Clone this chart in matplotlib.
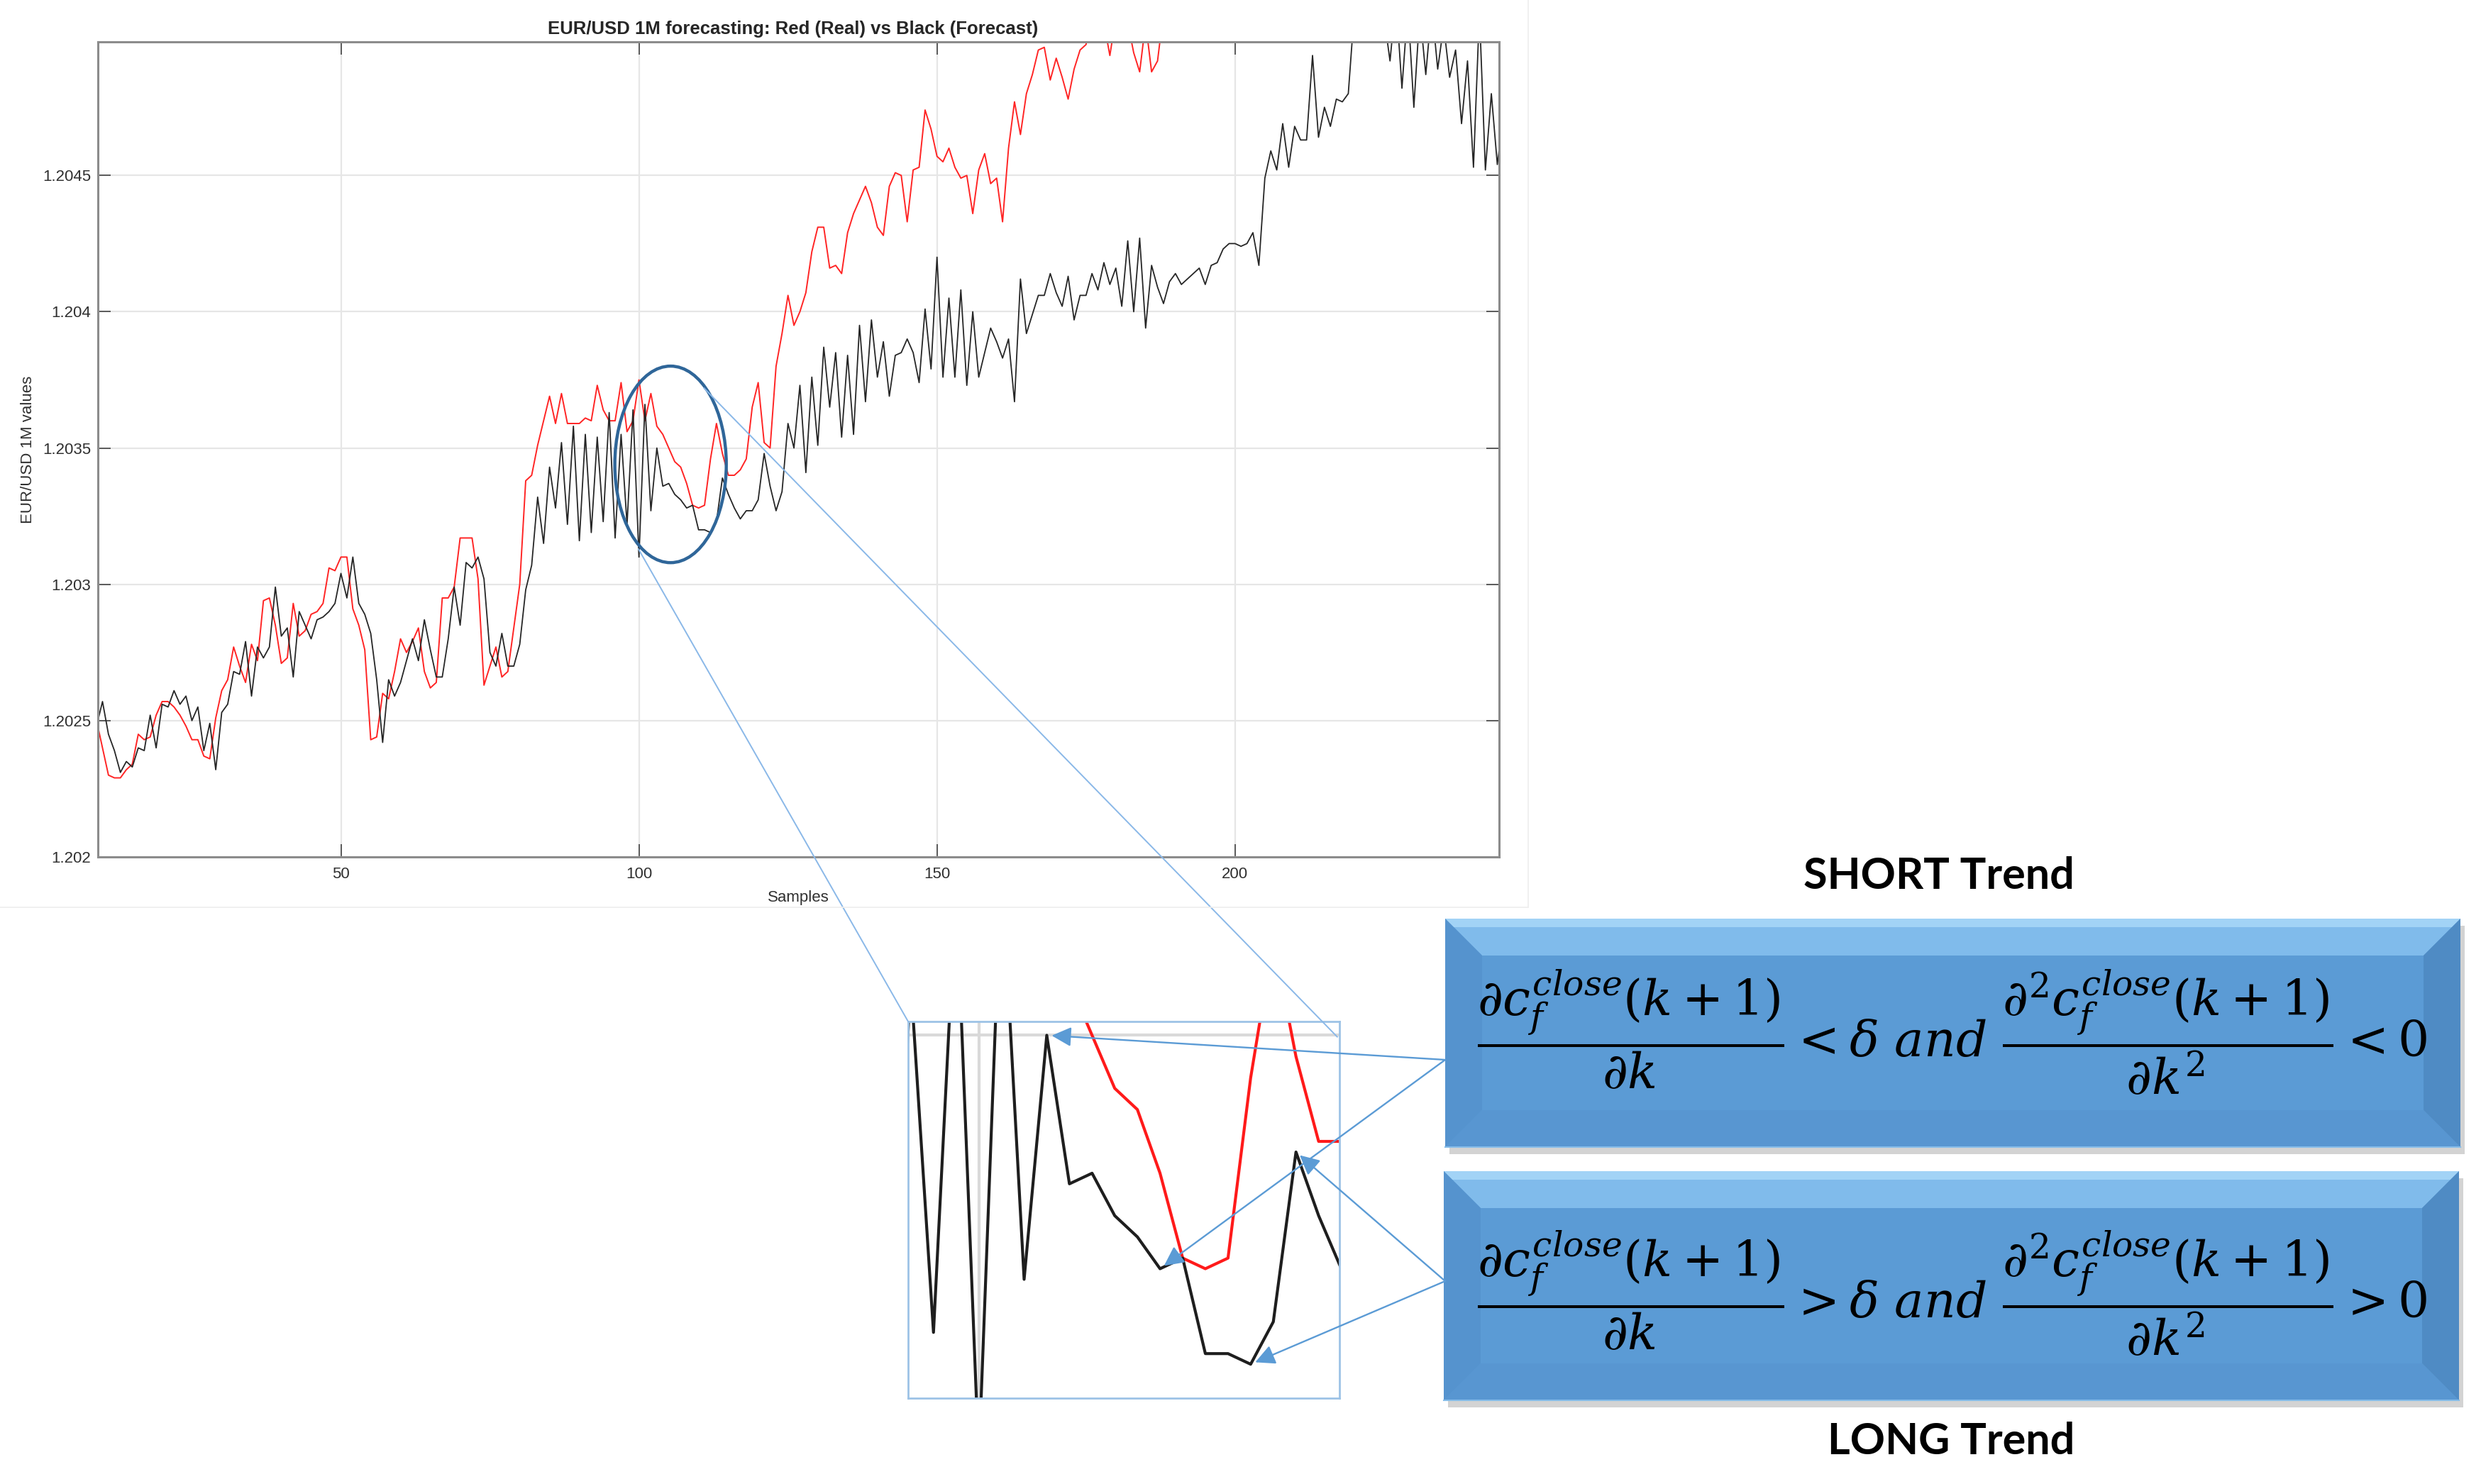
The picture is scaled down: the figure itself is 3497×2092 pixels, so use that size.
import numpy as np
import matplotlib
matplotlib.use('Agg')
import matplotlib.pyplot as plt
from matplotlib.patches import Ellipse, Polygon, ConnectionPatch

plt.rcParams['font.family'] = ['Liberation Sans', 'DejaVu Sans']
plt.rcParams['mathtext.fontset'] = 'dejavuserif'

# samples 9..189 (red leaves the plot above 1.205 after that)
real_start = 9
real = [1.20250, 1.20240, 1.20230, 1.20229, 1.20229, 1.20232, 1.20234, 1.20245, 1.20243, 1.20244,
        1.20252, 1.20257, 1.20257, 1.20255, 1.20252, 1.20248, 1.20243, 1.20243, 1.20237, 1.20236,
        1.20251, 1.20261, 1.20265, 1.20277, 1.20270, 1.20264, 1.20278, 1.20272, 1.20294, 1.20295,
        1.20285, 1.20271, 1.20273, 1.20293, 1.20281, 1.20283, 1.20289, 1.20290, 1.20293, 1.20306,
        1.20305, 1.20310, 1.20310, 1.20291, 1.20285, 1.20276, 1.20243, 1.20244, 1.20260, 1.20258,
        1.20268, 1.20280, 1.20275, 1.20279, 1.20284, 1.20268, 1.20262, 1.20264, 1.20295, 1.20295,
        1.20299, 1.20317, 1.20317, 1.20317, 1.20302, 1.20263, 1.20270, 1.20277, 1.20266, 1.20268,
        1.20284, 1.20300, 1.20338, 1.20340, 1.20351, 1.20360, 1.20369, 1.20359, 1.20370, 1.20359,
        1.20359, 1.20359, 1.20361, 1.20360, 1.20373, 1.20364, 1.20360, 1.20360, 1.20374, 1.20356,
        1.20360, 1.20375, 1.20360, 1.20370, 1.20358, 1.20355, 1.20350, 1.20345, 1.20343, 1.20337,
        1.20329, 1.20328, 1.20329, 1.20346, 1.20359, 1.20348, 1.20340, 1.20340, 1.20342, 1.20346,
        1.20365, 1.20374, 1.20352, 1.20350, 1.20380, 1.20392, 1.20406, 1.20395, 1.20400, 1.20407,
        1.20422, 1.20431, 1.20431, 1.20416, 1.20417, 1.20414, 1.20429, 1.20436, 1.20441, 1.20446,
        1.20440, 1.20431, 1.20428, 1.20446, 1.20451, 1.20450, 1.20433, 1.20452, 1.20453, 1.20474,
        1.20467, 1.20457, 1.20455, 1.20460, 1.20453, 1.20449, 1.20450, 1.20436, 1.20452, 1.20458,
        1.20447, 1.20449, 1.20433, 1.20460, 1.20477, 1.20465, 1.20480, 1.20487, 1.20496, 1.20497,
        1.20485, 1.20493, 1.20486, 1.20478, 1.20489, 1.20496, 1.20498, 1.20510, 1.20514, 1.20506,
        1.20494, 1.20508, 1.20514, 1.20506, 1.20495, 1.20488, 1.20506, 1.20488, 1.20492, 1.20510,
        1.20520]

# samples 9..245
forecast_start = 9
forecast = [1.20248, 1.20257, 1.20245, 1.20239, 1.20231, 1.20235, 1.20233, 1.20240, 1.20239, 1.20252,
            1.20240, 1.20256, 1.20255, 1.20261, 1.20256, 1.20259, 1.20250, 1.20255, 1.20239, 1.20249,
            1.20232, 1.20253, 1.20256, 1.20268, 1.20267, 1.20279, 1.20259, 1.20277, 1.20273, 1.20277,
            1.20299, 1.20281, 1.20284, 1.20266, 1.20290, 1.20285, 1.20280, 1.20287, 1.20288, 1.20290,
            1.20293, 1.20304, 1.20295, 1.20310, 1.20293, 1.20289, 1.20282, 1.20265, 1.20242, 1.20265,
            1.20259, 1.20264, 1.20272, 1.20280, 1.20272, 1.20287, 1.20276, 1.20266, 1.20266, 1.20280,
            1.20299, 1.20285, 1.20308, 1.20306, 1.20310, 1.20302, 1.20275, 1.20270, 1.20282, 1.20270,
            1.20270, 1.20278, 1.20298, 1.20307, 1.20332, 1.20315, 1.20343, 1.20328, 1.20352, 1.20322,
            1.20358, 1.20316, 1.20355, 1.20319, 1.20354, 1.20323, 1.20363, 1.20317, 1.20355, 1.20322,
            1.20364, 1.20310, 1.20366, 1.20327, 1.20350, 1.20336, 1.20337, 1.20333, 1.20331, 1.20328,
            1.20329, 1.20320, 1.20320, 1.20319, 1.20323, 1.20339, 1.20333, 1.20328, 1.20324, 1.20327,
            1.20327, 1.20331, 1.20348, 1.20336, 1.20327, 1.20334, 1.20359, 1.20350, 1.20373, 1.20341,
            1.20376, 1.20351, 1.20387, 1.20365, 1.20385, 1.20354, 1.20384, 1.20355, 1.20395, 1.20367,
            1.20397, 1.20376, 1.20389, 1.20369, 1.20384, 1.20385, 1.20390, 1.20385, 1.20374, 1.20401,
            1.20379, 1.20420, 1.20376, 1.20405, 1.20376, 1.20408, 1.20373, 1.20400, 1.20376, 1.20385,
            1.20394, 1.20389, 1.20383, 1.20390, 1.20367, 1.20412, 1.20392, 1.20399, 1.20406, 1.20406,
            1.20414, 1.20407, 1.20402, 1.20413, 1.20397, 1.20406, 1.20406, 1.20414, 1.20408, 1.20418,
            1.20410, 1.20416, 1.20402, 1.20426, 1.20400, 1.20427, 1.20394, 1.20417, 1.20409, 1.20403,
            1.20411, 1.20414, 1.20410, 1.20412, 1.20414, 1.20416, 1.20410, 1.20417, 1.20418, 1.20423,
            1.20425, 1.20425, 1.20424, 1.20425, 1.20429, 1.20417, 1.20449, 1.20459, 1.20452, 1.20469,
            1.20453, 1.20468, 1.20463, 1.20463, 1.20494, 1.20464, 1.20475, 1.20468, 1.20478, 1.20477,
            1.20480, 1.20510, 1.20515, 1.20512, 1.20518, 1.20514, 1.20508, 1.20492, 1.20515, 1.20482,
            1.20512, 1.20475, 1.20510, 1.20487, 1.20512, 1.20489, 1.20505, 1.20486, 1.20496, 1.20469,
            1.20492, 1.20453, 1.20510, 1.20452, 1.20480, 1.20454, 1.20472]

x_real = np.arange(real_start, real_start + len(real))
x_fc = np.arange(forecast_start, forecast_start + len(forecast))

xticks = [50, 100, 150, 200]
yticks = [1.202, 1.2025, 1.203, 1.2035, 1.204, 1.2045]
ytick_labels = ['1.202', '1.2025', '1.203', '1.2035', '1.204', '1.2045']

title = 'EUR/USD 1M forecasting: Red (Real) vs Black (Forecast)'
eq_short = r'$\dfrac{\partial c_f^{close}(k+1)}{\partial k} < \delta\ and\ \dfrac{\partial^2 c_f^{close}(k+1)}{\partial k^2} < 0$'
eq_long = r'$\dfrac{\partial c_f^{close}(k+1)}{\partial k} > \delta\ and\ \dfrac{\partial^2 c_f^{close}(k+1)}{\partial k^2} > 0$'

# points of the forecast that the arrows point at (inset)
short_points = [103, 108]
long_points = [114, 112]

W, H = 3497, 2092
fig = plt.figure(figsize=(W / 100, H / 100), dpi=100)

# ---- main chart
ax = fig.add_axes([138 / W, 1 - 1208 / H, 1975 / W, 1149 / H], zorder=1)
ax.plot(x_real, real, color='#ff2424', lw=1.4)
ax.plot(x_fc, forecast, color='#262626', lw=1.3)
ax.set_xlim(9.23, 244.3)
ax.set_ylim(1.202, 1.20499)
ax.set_xticks(xticks)
ax.set_yticks(yticks)
ax.set_yticklabels(ytick_labels)
ax.set_axisbelow(True)
ax.grid(color='#e6e6e6', lw=1.6)
ax.tick_params(direction='in', length=13, width=1.4, color='#5a5a5a', top=True, right=True,
               labelsize=16, labelcolor='#303030')
ax.tick_params(axis='x', pad=10)
ax.tick_params(axis='y', pad=7)
for s in ax.spines.values():
    s.set_color('#8c8c8c')
    s.set_linewidth(2.2)
ax.set_xlabel('Samples', fontsize=16, color='#303030', va='center')
ax.xaxis.set_label_coords(0.5, -(1265 - 1208) / 1149)
ax.set_ylabel('EUR/USD 1M values', fontsize=16, color='#303030', va='center')
ax.yaxis.set_label_coords(-(138 - 40) / 1975, 0.5)
fig.text(1118 / W, 1 - 41 / H, title, ha='center', va='center', fontsize=18.5, fontweight='bold',
         color='#262626')

ax.add_patch(Ellipse((105.3, 1.20344), 18.7, 0.000721, fill=False, ec='#2f6699', lw=3.2, zorder=5))

# ---- zoomed inset
axins = fig.add_axes([1280 / W, 1 - 1971 / H, 608 / W, 531 / H], zorder=2)
axins.plot(x_real, real, color='#ff1a1a', lw=3.0)
axins.plot(x_fc, forecast, color='#1e1e1e', lw=3.0)
axins.set_xlim(96.88, 115.92)
axins.set_ylim(1.203158, 1.203513)
axins.set_xticks([100])
axins.set_yticks([1.2035])
axins.grid(color='#d9d9d9', lw=3)
axins.set_axisbelow(True)
axins.tick_params(length=0, labelbottom=False, labelleft=False)
for s in axins.spines.values():
    s.set_color('#9dc3e6')
    s.set_linewidth(2)

con1 = ConnectionPatch(xyA=(99.9, 1.20313), coordsA=ax.transData, xyB=(0, 1), coordsB=axins.transAxes,
                       color='#8ab8e8', lw=1.4, zorder=3)
con2 = ConnectionPatch(xyA=(110.9, 1.20372), coordsA=ax.transData, xyB=(0.995, 0.959),
                       coordsB=axins.transAxes, color='#8ab8e8', lw=1.4, zorder=3)
fig.add_artist(con1)
fig.add_artist(con2)

# ---- overlay in pixel units for the boxes, labels and arrows
ov = fig.add_axes([0, 0, 1, 1], zorder=5)
ov.set_xlim(0, W)
ov.set_ylim(H, 0)
ov.axis('off')
ov.patch.set_alpha(0)

# faint frame of the pasted figure
ov.plot([2154, 2154], [0, 1279], color='#eeeeee', lw=1.2)
ov.plot([0, 2154], [1279, 1279], color='#eeeeee', lw=1.2)


def bevel_box(x0, y0, x1, y1, b=52):
    ov.add_patch(Polygon([(x0 + 6, y0 + 10), (x1 + 6, y0 + 10), (x1 + 6, y1 + 10), (x0 + 6, y1 + 10)],
                         closed=True, fc='#b0b0b0', ec='none', alpha=0.55))
    ov.add_patch(Polygon([(x0, y0), (x1, y0), (x1, y1), (x0, y1)], closed=True, fc='#5b9bd5', ec='none'))
    ov.add_patch(Polygon([(x0, y0), (x1, y0), (x1 - b, y0 + b), (x0 + b, y0 + b)], closed=True,
                         fc='#80bbeb', ec='none'))
    ov.add_patch(Polygon([(x0, y0), (x1, y0), (x1 - 12, y0 + 12), (x0 + 12, y0 + 12)], closed=True,
                         fc='#a2d3f6', ec='none'))
    ov.add_patch(Polygon([(x0, y0), (x0 + b, y0 + b), (x0 + b, y1 - b), (x0, y1)], closed=True,
                         fc='#5593ce', ec='none'))
    ov.add_patch(Polygon([(x1, y0), (x1 - b, y0 + b), (x1 - b, y1 - b), (x1, y1)], closed=True,
                         fc='#4f8bc4', ec='none'))
    ov.add_patch(Polygon([(x0, y1), (x1, y1), (x1 - b, y1 - b), (x0 + b, y1 - b)], closed=True,
                         fc='#5896d1', ec='none'))
    ov.plot([x0, x1], [y1, y1], color='#86bde9', lw=1.5)


bevel_box(2037, 1295, 3468, 1617)
bevel_box(2035, 1651, 3466, 1974)

ov.text(2733, 1235, 'SHORT Trend', ha='center', va='center', fontsize=44, fontweight='bold',
        family=['Lato', 'DejaVu Sans'], color='black')
ov.text(2750, 2032, 'LONG Trend', ha='center', va='center', fontsize=44, fontweight='bold',
        family=['Lato', 'DejaVu Sans'], color='black')
ov.text(2752, 1455, eq_short, ha='center', va='center', fontsize=50, color='black')
ov.text(2752, 1823, eq_long, ha='center', va='center', fontsize=50, color='black')

arrow_style = dict(arrowstyle='-|>', color='#5b9bd5', lw=1.7, mutation_scale=42, shrinkA=0, shrinkB=5)
fc_lookup = dict(zip(x_fc, forecast))
for p in short_points:
    ov.annotate('', xy=(p, fc_lookup[p]), xycoords=axins.transData, xytext=(2037, 1494),
                textcoords='data', arrowprops=arrow_style)
for p in long_points:
    ov.annotate('', xy=(p, fc_lookup[p]), xycoords=axins.transData, xytext=(2037, 1806),
                textcoords='data', arrowprops=arrow_style)

fig.savefig('out.png', dpi=100, facecolor='white')
